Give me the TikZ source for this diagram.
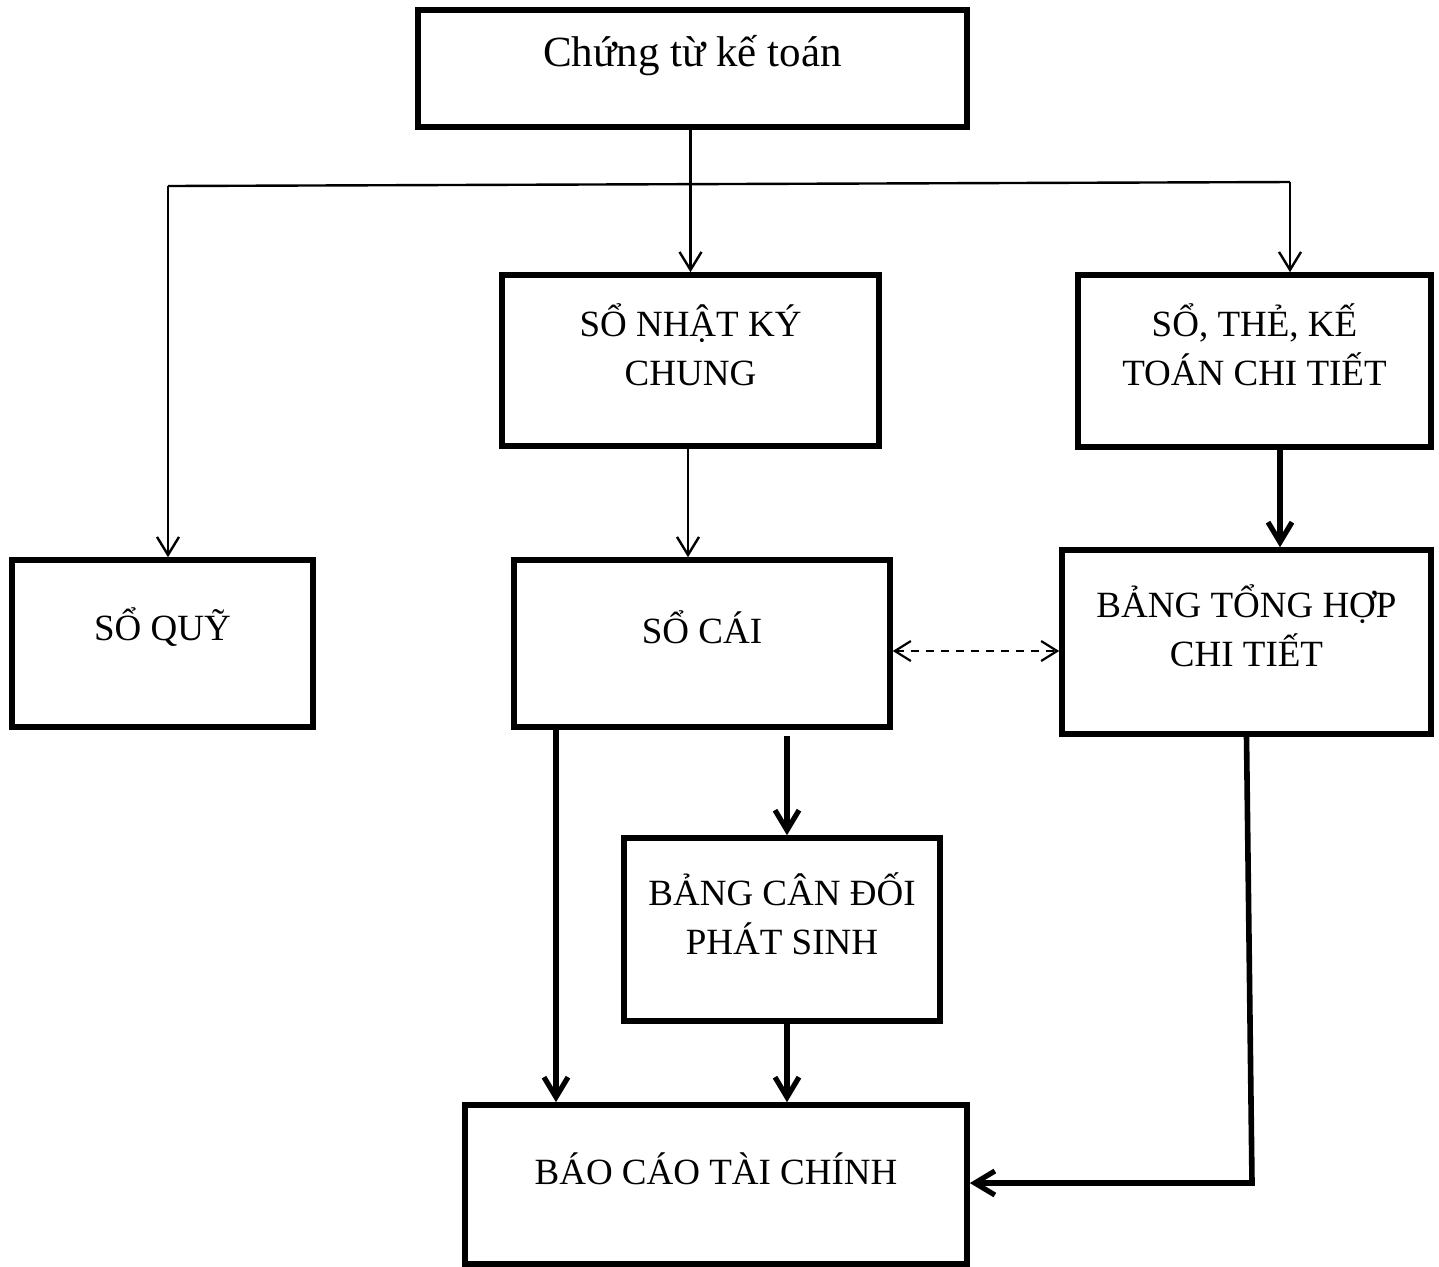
\documentclass[tikz,border=0pt]{standalone}
\usepackage{fontspec}
\setmainfont{Liberation Serif}
\usetikzlibrary{arrows.meta}
\begin{document}
\begin{tikzpicture}[x=0.5pt, y=-0.5pt,
  box/.style={draw, line width=2.8pt, inner sep=0pt},
  boxtext/.style={font=\fontsize{18.5}{24.5}\selectfont, align=center, yshift=8pt},
  titletext/.style={font=\fontsize{21.5}{26}\selectfont, align=center, yshift=6.5pt},
  thinarrow/.style={line width=1.2pt, -{Straight Barb[length=9pt, width=11pt, line width=1.2pt]}},
  thickarrow/.style={line width=2.8pt, -{Straight Barb[length=10pt, width=12pt, line width=2.6pt]}},
  dasharrow/.style={line width=1.1pt, dash pattern=on 4pt off 3.5pt,
    {Straight Barb[length=8pt, width=10pt, line width=1.1pt]}-{Straight Barb[length=8pt, width=10pt, line width=1.1pt]}},
  plain/.style={line width=1.2pt}
]
% page frame
\fill[white] (0,0) rectangle (1439,1266);
\useasboundingbox (0,0) rectangle (1439,1266);

% boxes
\node[box, minimum width=274.5pt, minimum height=58.5pt,
  label={[titletext]center:Chứng từ kế toán}] (ctkt) at (692.5,68.5) {};
\node[box, minimum width=188.5pt, minimum height=85.5pt,
  label={[boxtext]center:SỔ NHẬT KÝ\\CHUNG}] (nkc) at (690.5,360.5) {};
\node[box, minimum width=176.5pt, minimum height=86pt,
  label={[boxtext]center:SỔ, THẺ, KẾ\\TOÁN CHI TIẾT}] (stct) at (1254.5,361) {};
\node[box, minimum width=150.5pt, minimum height=83.5pt,
  label={[boxtext]center:SỔ QUỸ}] (squy) at (162.5,643.5) {};
\node[box, minimum width=188pt, minimum height=83.5pt,
  label={[boxtext]center:SỔ CÁI}] (scai) at (702,643.5) {};
\node[box, minimum width=184.5pt, minimum height=92pt,
  label={[boxtext]center:BẢNG TỔNG HỢP\\CHI TIẾT}] (bth) at (1246.5,642) {};
\node[box, minimum width=158pt, minimum height=91.5pt,
  label={[boxtext]center:BẢNG CÂN ĐỐI\\PHÁT SINH}] (bcd) at (782,929.5) {};
\node[box, minimum width=251pt, minimum height=79.5pt,
  label={[boxtext]center:BÁO CÁO TÀI CHÍNH}] (bctc) at (716,1184.5) {};

% distribution line under the source documents
\coordinate (dl) at (168,186);
\coordinate (dr) at (1290,182);
\draw[plain] (dl) -- (dr);
\draw[thinarrow] (ctkt.south -| nkc.north) -- (nkc.north);
\draw[thinarrow] (dl) -- (squy.north -| dl);
\draw[thinarrow] (dr) -- (stct.north -| dr);

% journal to ledger
\draw[thinarrow] ([xshift=-1.25pt]nkc.south) -- ([xshift=-1.25pt]nkc.south |- scai.north);

% detail books to detail summary
\draw[thickarrow] ([xshift=12.75pt]stct.south) -- ([xshift=12.75pt]stct.south |- bth.north);

% reconciliation between ledger and detail summary
\draw[dasharrow] ([yshift=-3.75pt]scai.east) -- ([yshift=-3.75pt]scai.east -| bth.west);

% ledger outputs
\draw[thickarrow] ([xshift=-73pt]scai.south) -- ([xshift=-73pt]scai.south |- bctc.north);
\draw[thickarrow] ([xshift=42.5pt, yshift=-3pt]scai.south) -- ([xshift=42.5pt]scai.south |- bcd.north);

% trial balance to statements
\draw[thickarrow] ([xshift=2.5pt]bcd.south) -- ([xshift=2.5pt]bcd.south |- bctc.north);

% detail summary to statements
\coordinate (br) at (1252,1183);
\draw[thickarrow, line join=miter] (bth.south) -- (br) -- (bctc.east |- br);
\end{tikzpicture}
\end{document}
